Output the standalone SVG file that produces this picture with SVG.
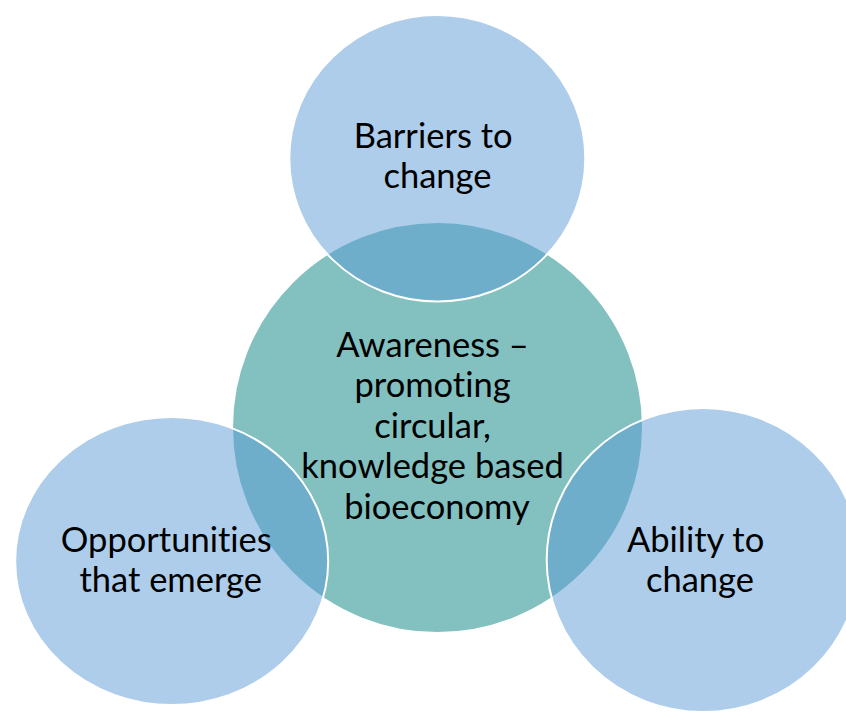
<svg xmlns="http://www.w3.org/2000/svg" width="846" height="712" viewBox="0 0 846 712">
  <style>
    .hub { fill: #83C0C0; stroke: #FFFFFF; stroke-width: 2; }
    .sat { fill: #5B9BD5; fill-opacity: 0.5; stroke: #FFFFFF; stroke-width: 2; }
    .lbl { font-family: Lato, "Open Sans", "Liberation Sans", sans-serif; font-size: 34.5px; fill: #000000; text-anchor: middle; font-variant-ligatures: none; }
  </style>
  <rect x="0" y="0" width="846" height="712" fill="#FFFFFF"/>
  <g id="connectors"/>
  <g id="node-awareness">
    <circle class="hub" cx="437.5" cy="427.5" r="205.5"/>
    <text class="lbl">
      <tspan x="437" y="356.5">Awareness –</tspan>
      <tspan x="437" y="397">promoting</tspan>
      <tspan x="437" y="437.5">circular,</tspan>
      <tspan x="437" y="478">knowledge based</tspan>
      <tspan x="437" y="518.5">bioeconomy</tspan>
    </text>
  </g>
  <g id="node-barriers">
    <ellipse class="sat" cx="437.3" cy="158.3" rx="148" ry="143.3"/>
    <text class="lbl">
      <tspan x="437.5" y="148">Barriers to</tspan>
      <tspan x="437.5" y="188">change</tspan>
    </text>
  </g>
  <g id="node-opportunities">
    <ellipse class="sat" cx="171.7" cy="561" rx="156.5" ry="144"/>
    <text class="lbl">
      <tspan x="170.7" y="551.7">Opportunities</tspan>
      <tspan x="170.7" y="591.7">that emerge</tspan>
    </text>
  </g>
  <g id="node-ability">
    <ellipse class="sat" cx="703.2" cy="560" rx="156.5" ry="152"/>
    <text class="lbl">
      <tspan x="700" y="551.7">Ability to</tspan>
      <tspan x="700" y="591.7">change</tspan>
    </text>
  </g>
</svg>
